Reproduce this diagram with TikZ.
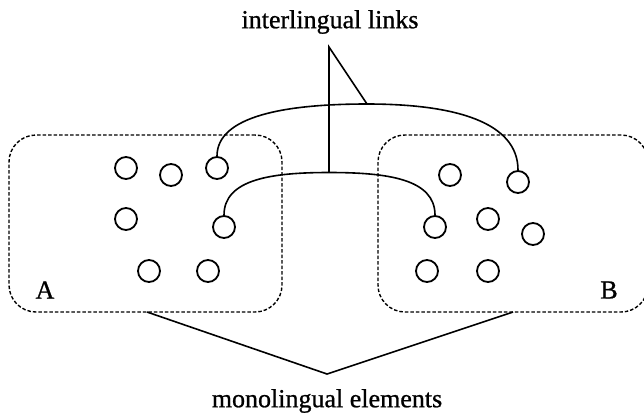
\documentclass[tikz,border=0pt]{standalone}
\usepackage{fontspec}
\setmainfont{Liberation Serif}
\newfontfamily\labfont[FakeBold=0.9]{Liberation Serif}
\usetikzlibrary{calc}
\begin{document}
\begin{tikzpicture}[x=1pt,y=-1pt,
  elem/.style={draw, circle, minimum size=22pt, inner sep=0pt, line width=1.8pt},
  group/.style={draw, dashed, dash pattern=on 3.5pt off 2pt, rounded corners=27pt, line width=1.4pt, inner sep=0pt},
  link/.style={line width=1.6pt},
  lbl/.style={font=\labfont\fontsize{26}{30}\selectfont, inner sep=0pt}]
\useasboundingbox (0,0) rectangle (644,413);
% groups
\node[group, minimum width=273pt, minimum height=177pt] (boxA) at (145.5,223.5) {};
\node[group, minimum width=270pt, minimum height=177pt] (boxB) at (513,223.5) {};
\node[lbl] (labA) at (45,290) {A};
\node[lbl] (labB) at (609,290) {B};
% elements A
\node[elem] (a1) at (126,168) {};
\node[elem] (a2) at (171,175) {};
\node[elem] (a3) at (217,168) {};
\node[elem] (a4) at (126,219) {};
\node[elem] (a5) at (224,227) {};
\node[elem] (a6) at (149,271) {};
\node[elem] (a7) at (208,271) {};
% elements B
\node[elem] (b1) at (450,175) {};
\node[elem] (b2) at (518,182) {};
\node[elem] (b3) at (435,227) {};
\node[elem] (b4) at (488,219) {};
\node[elem] (b5) at (533,234) {};
\node[elem] (b6) at (427,271) {};
\node[elem] (b7) at (488,271) {};
% links
\coordinate (upk) at (367,104);
\coordinate (lpk) at (329,172.5);
\draw[link] (a3.north) .. controls ($(a3.north)+(0,-40)$) and (285,104) .. (upk)
  .. controls (455,104) and ($(b2.north)+(0,-48)$) .. (b2.north);
\draw[link] (a5.north) .. controls ($(a5.north)+(0,-36)$) and (272,172.5) .. (lpk)
  .. controls (388,172.5) and ($(b3.north)+(0,-36)$) .. (b3.north);
% interlingual label
\node[lbl] (inter) at (330,22) {interlingual links};
\coordinate (itop) at (329,47);
\draw[link] (lpk) -- (itop) -- (upk);
% monolingual label
\node[lbl] (mono) at (327,401) {monolingual elements};
\coordinate (mA) at (147,312);
\coordinate (mB) at (513,312);
\coordinate (mv) at (327,374);
\draw[link] (mA) -- (mv) -- (mB);
\end{tikzpicture}
\end{document}
